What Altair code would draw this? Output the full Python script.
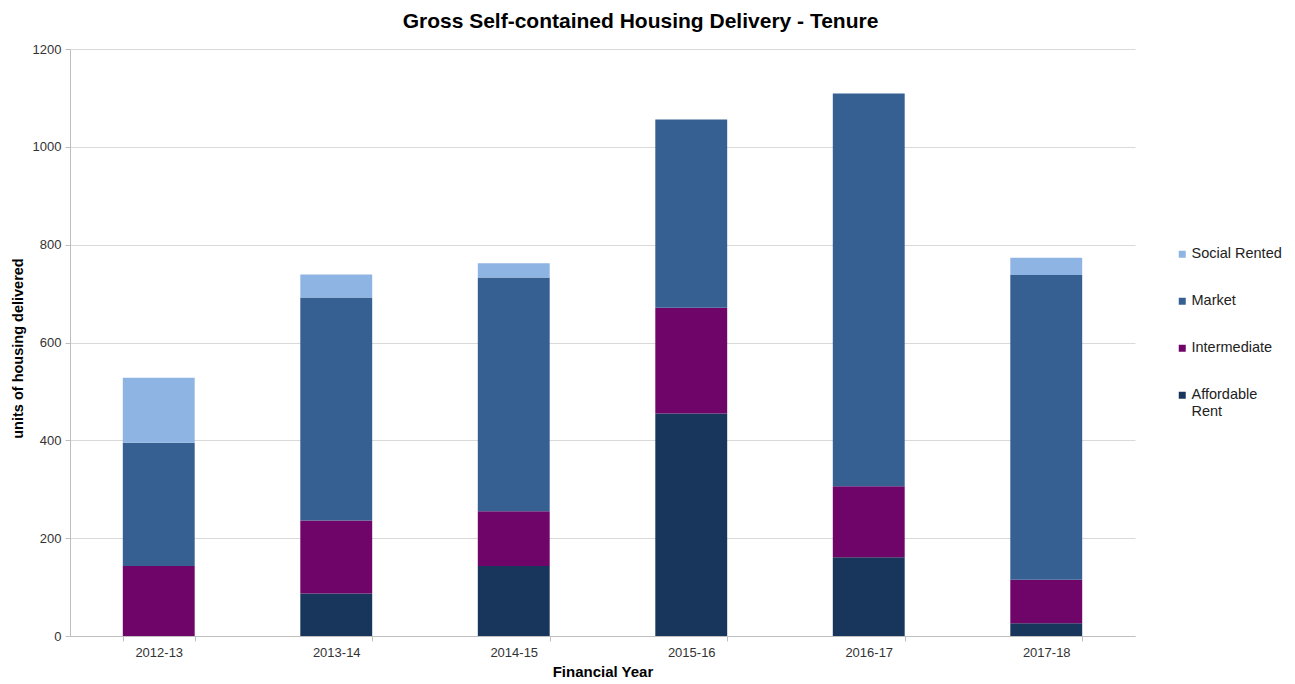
import altair as alt
import pandas as pd

years = ["2012-13", "2013-14", "2014-15", "2015-16", "2016-17", "2017-18"]
tenures = ["Social Rented", "Market", "Intermediate", "Affordable Rent"]
colors = ["#8EB4E3", "#366092", "#6F0569", "#18365C"]

affordable_rent = [0, 87, 143, 455, 161, 26]
intermediate = [143, 149, 112, 216, 145, 89]
market = [252, 456, 478, 385, 803, 623]
social_rented = [133, 47, 29, 0, 0, 35]

series = {
    "Affordable Rent": affordable_rent,
    "Intermediate": intermediate,
    "Market": market,
    "Social Rented": social_rented,
}
stack_rank = {"Affordable Rent": 0, "Intermediate": 1, "Market": 2, "Social Rented": 3}

rows = []
for name, vals in series.items():
    for y, v in zip(years, vals):
        if v > 0:
            rows.append({"year": y, "tenure": name, "units": v, "rank": stack_rank[name]})
df = pd.DataFrame(rows)

FONT = "Liberation Sans"

chart = alt.Chart(df).mark_bar().encode(
    x=alt.X(
        "year:N",
        sort=years,
        scale=alt.Scale(paddingInner=0.595, paddingOuter=0.2975),
        axis=alt.Axis(
            title="Financial Year",
            titleFont=FONT, titleFontSize=15, titleFontWeight="bold", titleColor="#000000",
            titleY=28,
            labelFont=FONT, labelFontSize=13, labelColor="#333333", labelAngle=0, labelPadding=5,
            domainColor="#BFBFBF", tickColor="#BFBFBF", tickSize=5, tickBand="extent",
            grid=False,
        ),
    ),
    y=alt.Y(
        "units:Q",
        stack="zero",
        scale=alt.Scale(domain=[0, 1200]),
        axis=alt.Axis(
            title="units of housing delivered",
            titleFont=FONT, titleFontSize=14.5, titleFontWeight="bold", titleColor="#000000",
            titleX=-45, titleY=299,
            values=[0, 200, 400, 600, 800, 1000, 1200],
            format="d",
            labelFont=FONT, labelFontSize=13, labelColor="#333333", labelPadding=4,
            domainColor="#BFBFBF", tickColor="#BFBFBF", tickSize=5,
            gridColor="#D9D9D9", gridWidth=1.2,
        ),
    ),
    color=alt.Color(
        "tenure:N",
        scale=alt.Scale(domain=tenures, range=colors),
        legend=alt.Legend(
            title=None,
            orient="none",
            legendX=1105,
            legendY=198,
            symbolType="square",
            symbolSize=49,
            symbolStrokeWidth=0,
            labelFont=FONT,
            labelFontSize=14.5,
            labelColor="#222222",
            labelOffset=2,
            rowPadding=32,
            labelExpr="datum.label == 'Affordable Rent' ? ['Affordable', 'Rent'] : datum.label",
        ),
    ),
    order=alt.Order("rank:Q", sort="ascending"),
).properties(
    width=1065,
    height=587,
    title=alt.TitleParams(
        "Gross Self-contained Housing Delivery - Tenure",
        font=FONT, fontSize=21, fontWeight="bold", color="#000000",
        anchor="middle", dx=38, offset=11,
    ),
    autosize=alt.AutoSizeParams(type="none"),
    padding={"left": 62, "top": 41, "right": 150, "bottom": 46},
).configure_view(stroke=None)

chart.save("out.html", embed_options={"renderer": "svg", "actions": False})
